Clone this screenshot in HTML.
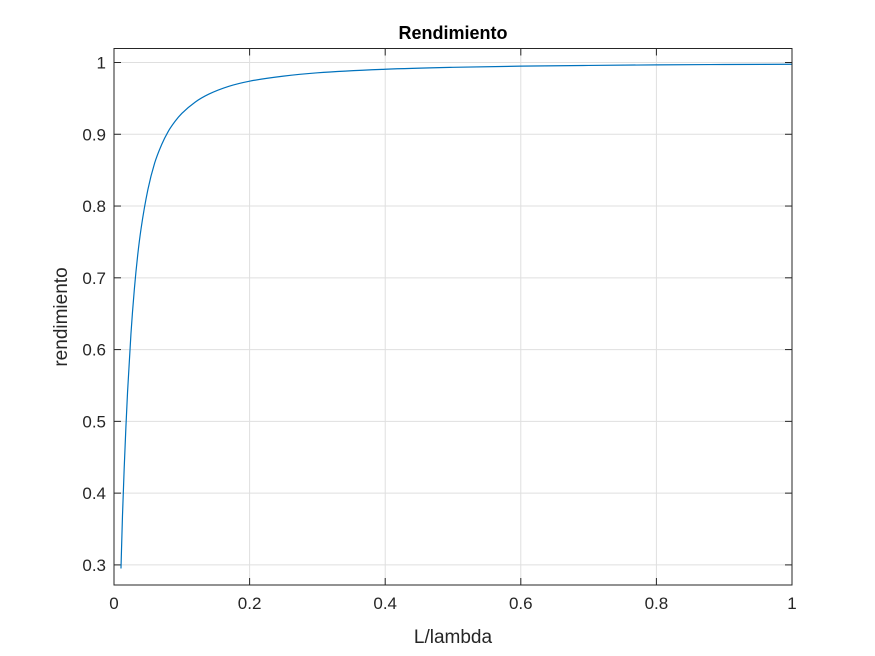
<!DOCTYPE html>
<html><head><meta charset="utf-8"><style>
html,body{margin:0;padding:0;background:#fff;}
svg{display:block;font-family:"Liberation Sans",Arial,sans-serif;}
</style></head><body>
<svg id="chart" width="875" height="656" viewBox="0 0 875 656" xmlns="http://www.w3.org/2000/svg">
<rect width="875" height="656" fill="#fff"/>
<g id="grid"></g>
<g id="ticks"></g>
<path id="curve" fill="none" stroke="#0072BD" stroke-width="1.2"/>
<rect x="114" y="48.5" width="678" height="536.5" fill="none" stroke="#262626" stroke-width="1"/>
<text x="453" y="39" text-anchor="middle" font-size="18" font-weight="bold" fill="#000">Rendimiento</text>
<text x="453" y="643" text-anchor="middle" font-size="19" fill="#262626">L/lambda</text>
<text transform="translate(67,317) rotate(-90)" text-anchor="middle" font-size="19" fill="#262626">rendimiento</text>
</svg>
<script>
const xTicks=[0,0.2,0.4,0.6,0.8,1];
const xTickLabels=["0","0.2","0.4","0.6","0.8","1"];
const yTicks=[0.3,0.4,0.5,0.6,0.7,0.8,0.9,1];
const yTickLabels=["0.3","0.4","0.5","0.6","0.7","0.8","0.9","1"];
const xVals=[0.0103,0.0125,0.015,0.0175,0.02,0.025,0.03,0.035,0.04,0.05,0.06,0.07,0.08,0.09,0.1,0.12,0.14,0.17,0.2,0.25,0.3,0.4,0.5,0.6,0.7,0.8,0.9,1];
const yVals=[0.295,0.368,0.434,0.491,0.541,0.622,0.684,0.732,0.769,0.823,0.86,0.885,0.904,0.918,0.929,0.945,0.956,0.967,0.974,0.981,0.9856,0.9906,0.9933,0.9949,0.9959,0.9967,0.9972,0.9976];
const X0=114,X1=792,YT=48.5,YB=585,ymin=0.272,ymax=1.0195;
function sx(v){return X0+(v-0)/(1-0)*(X1-X0);}
function sy(v){return YB-(v-ymin)/(ymax-ymin)*(YB-YT);}
const NS="http://www.w3.org/2000/svg";
const grid=document.getElementById('grid'),ticks=document.getElementById('ticks');
function mk(tag,attrs,parent){const e=document.createElementNS(NS,tag);for(const k in attrs)e.setAttribute(k,attrs[k]);parent.appendChild(e);return e;}
xTicks.forEach((t,i)=>{
  const x=sx(t);
  const g=mk('line',{x1:x,x2:x,y1:YT,y2:YB,stroke:'#dfdfdf','stroke-width':1},grid);
  
  
  mk('line',{x1:x,x2:x,y1:YB,y2:YB-7,stroke:'#262626'},ticks);
  mk('line',{x1:x,x2:x,y1:YT,y2:YT+7,stroke:'#262626'},ticks);
  const tx=mk('text',{x:x,y:YB+24,'text-anchor':'middle','font-size':17,fill:'#262626'},ticks);
  tx.textContent=xTickLabels[i];
  
  
});
yTicks.forEach((t,i)=>{
  const y=sy(t);
  const g=mk('line',{x1:X0,x2:X1,y1:y,y2:y,stroke:'#dfdfdf','stroke-width':1},grid);
  
  
  mk('line',{x1:X0,x2:X0+7,y1:y,y2:y,stroke:'#262626'},ticks);
  mk('line',{x1:X1,x2:X1-7,y1:y,y2:y,stroke:'#262626'},ticks);
  const tx=mk('text',{x:X0-8,y:y+6,'text-anchor':'end','font-size':17,fill:'#262626'},ticks);
  tx.textContent=yTickLabels[i];
  
  
});
// monotone cubic (Fritsch-Carlson) smoothing in pixel space
const P=xVals.map((v,i)=>[sx(v),sy(yVals[i])]);
const n=P.length,dk=[],m=[];
for(let i=0;i<n-1;i++)dk.push((P[i+1][1]-P[i][1])/(P[i+1][0]-P[i][0]));
m[0]=dk[0];m[n-1]=dk[n-2];
for(let i=1;i<n-1;i++)m[i]=(dk[i-1]*dk[i]<=0)?0:(dk[i-1]+dk[i])/2;
for(let i=0;i<n-1;i++){if(dk[i]===0){m[i]=m[i+1]=0;continue;}const a=m[i]/dk[i],b=m[i+1]/dk[i],s=a*a+b*b;if(s>9){const t=3/Math.sqrt(s);m[i]=t*a*dk[i];m[i+1]=t*b*dk[i];}}
let d='M'+P[0][0].toFixed(2)+' '+P[0][1].toFixed(2);
for(let i=0;i<n-1;i++){const h=(P[i+1][0]-P[i][0])/3;
d+='C'+(P[i][0]+h).toFixed(2)+' '+(P[i][1]+m[i]*h).toFixed(2)+' '+(P[i+1][0]-h).toFixed(2)+' '+(P[i+1][1]-m[i+1]*h).toFixed(2)+' '+P[i+1][0].toFixed(2)+' '+P[i+1][1].toFixed(2);}
document.getElementById('curve').setAttribute('d',d);
</script>
</body></html>
